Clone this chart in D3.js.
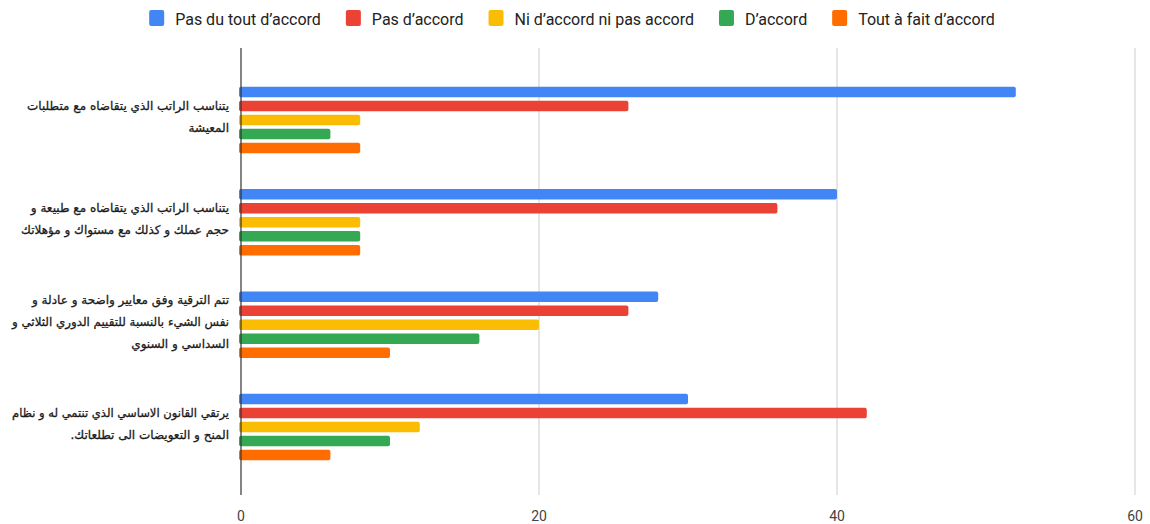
<!DOCTYPE html>
<html>
<head>
<meta charset="utf-8">
<script src="https://cdn.jsdelivr.net/npm/d3@7"></script>
<style>
  html, body { margin: 0; padding: 0; background: #fff; }
  svg { display: block; }
</style>
</head>
<body>
<svg id="chart" width="1150" height="524"></svg>
<script>
// Survey statements (one horizontal group each), split into display lines
const categories = [
  ["يتناسب الراتب الذي يتقاضاه مع متطلبات", "المعيشة"],
  ["يتناسب الراتب الذي يتقاضاه مع طبيعة و", "حجم عملك و كذلك مع مستواك و مؤهلاتك"],
  ["تتم الترقية وفق معايير واضحة و عادلة و", "نفس الشيء بالنسبة للتقييم الدوري الثلاثي و", "السداسي و السنوي"],
  ["يرتقي القانون الاساسي الذي تنتمي له و نظام", "المنح و التعويضات الى تطلعاتك."]
];

const seriesNames = ["Pas du tout d’accord", "Pas d’accord", "Ni d’accord ni pas accord", "D’accord", "Tout à fait d’accord"];
const seriesColors = ["#4285F4", "#EA4335", "#FBBC04", "#34A853", "#FF6D01"];

// Counts per answer, one array per series, in category order
const pasDuTout   = [52, 40, 28, 30];
const pasDaccord  = [26, 36, 26, 42];
const neutre      = [8, 8, 20, 12];
const daccord     = [6, 8, 16, 10];
const toutAFait   = [8, 8, 10, 6];
const seriesValues = [pasDuTout, pasDaccord, neutre, daccord, toutAFait];

const xTicks = [0, 20, 40, 60];

const svg = d3.select("#chart");

const x = d3.scaleLinear().domain([0, 60]).range([241, 1135]);
const gridTop = 48, gridBottom = 495;

const y = d3.scaleBand()
  .domain(d3.range(categories.length))
  .range([68.8, 478.2]);

const inner = d3.scaleBand()
  .domain(d3.range(seriesNames.length))
  .range([-35, 35])
  .paddingInner(0.25)
  .paddingOuter(0.125);

// Vertical gridlines
svg.append("g")
  .selectAll("line")
  .data(xTicks.filter(t => t !== 0))
  .join("line")
  .attr("x1", d => x(d)).attr("x2", d => x(d))
  .attr("y1", gridTop).attr("y2", gridBottom)
  .attr("stroke", "#cccccc").attr("stroke-width", 1);

// Bars
const groups = svg.append("g")
  .selectAll("g")
  .data(categories)
  .join("g")
  .attr("transform", (d, i) => `translate(0,${y(i) + y.bandwidth() / 2})`);

groups.selectAll("rect")
  .data((d, i) => seriesValues.map((vals, s) => ({ s, v: vals[i] })))
  .join("rect")
  .attr("x", x(0) - 2)
  .attr("y", d => inner(d.s))
  .attr("width", d => x(d.v) - x(0) + 2)
  .attr("height", inner.bandwidth())
  .attr("rx", 2)
  .attr("fill", d => seriesColors[d.s]);

// Baseline at zero
svg.append("line")
  .attr("x1", x(0)).attr("x2", x(0))
  .attr("y1", gridTop).attr("y2", gridBottom)
  .attr("stroke", "#333333").attr("stroke-width", 1.2);

// X axis tick labels
svg.append("g")
  .selectAll("text")
  .data(xTicks)
  .join("text")
  .attr("x", d => x(d))
  .attr("y", 521)
  .attr("text-anchor", "middle")
  .attr("font-family", "Roboto, Arial, sans-serif")
  .attr("font-size", 14)
  .attr("fill", "#444444")
  .text(d => d);

// Category labels (right-aligned, right-to-left), each line kept within the label column
const lineGap = 22;
const labelRight = 229;
const labelMaxW = 217;
const labels = svg.append("g")
  .attr("font-family", "'DejaVu Sans', 'Noto Sans', sans-serif")
  .attr("font-size", 12)
  .attr("fill", "#1a1a1a")
  .attr("stroke", "#1a1a1a")
  .attr("stroke-width", 0.3);

categories.forEach((lines, i) => {
  const cy = y(i) + y.bandwidth() / 2;
  const first = cy - (lines.length - 1) * lineGap / 2 + 1;
  lines.forEach((line, k) => {
    const t = labels.append("text")
      .attr("direction", "rtl")
      .attr("text-anchor", "start")
      .attr("x", labelRight)
      .attr("y", first + k * lineGap)
      .text(line);
    if (t.node().getComputedTextLength() > labelMaxW) {
      t.attr("textLength", labelMaxW).attr("lengthAdjust", "spacingAndGlyphs");
    }
  });
});

// Legend, centered along the top
const legend = svg.append("g");
const items = legend.selectAll("g")
  .data(seriesNames)
  .join("g");
items.append("rect")
  .attr("width", 15).attr("height", 16)
  .attr("y", 10).attr("rx", 2)
  .attr("fill", (d, i) => seriesColors[i]);
items.append("text")
  .attr("x", 26).attr("y", 25)
  .attr("font-family", "Roboto, Arial, sans-serif")
  .attr("font-size", 16)
  .attr("fill", "#222222")
  .text(d => d);
let cursor = 0;
const itemGap = 25;
const offsets = [];
items.each(function () {
  const w = 26 + this.querySelector("text").getComputedTextLength();
  offsets.push(cursor);
  cursor += w + itemGap;
});
const totalW = cursor - itemGap;
const startX = (1150 - totalW) / 2 - 3;
items.attr("transform", (d, i) => `translate(${startX + offsets[i]},0)`);
</script>
</body>
</html>
